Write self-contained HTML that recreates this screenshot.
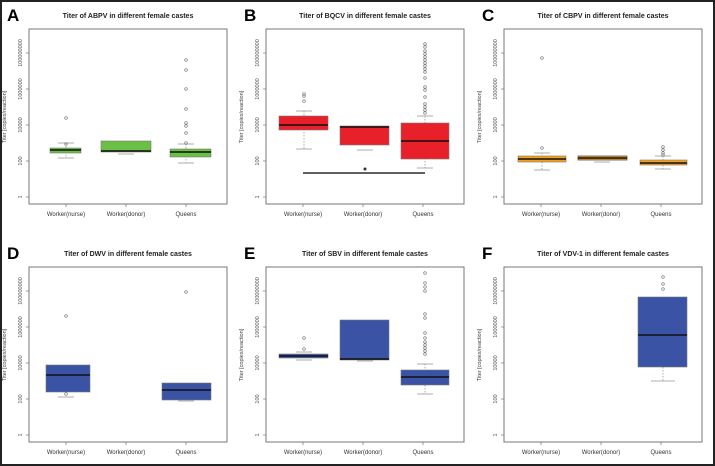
<!DOCTYPE html>
<html><head><style>
html,body{margin:0;padding:0;background:#fff}
svg{display:block}
text{font-family:"Liberation Sans",sans-serif}
.t{font-size:7px;font-weight:bold;fill:#222}
.L{font-size:17px;font-weight:bold;fill:#000}
.tk{font-size:5.5px;fill:#555}
.xl{font-size:6px;fill:#333}
.yl{font-size:5.5px;fill:#444}
.fr{fill:none;stroke:#777;stroke-width:1}
.w{stroke:#999;stroke-width:0.8;fill:none}
.o{fill:none;stroke:#777;stroke-width:0.7}
.m{stroke:#111;stroke-width:1.6}
</style></head><body>
<svg width="715" height="466" viewBox="0 0 715 466" xmlns="http://www.w3.org/2000/svg">
<rect x="1" y="1" width="713" height="464" fill="#fff" stroke="#222" stroke-width="2"/>
<defs>
<g id="axes">
<rect class="fr" x="29" y="29" width="198" height="175"/>
<g stroke="#777" stroke-width="0.7">
<line x1="26" y1="53" x2="29" y2="53"/><line x1="26" y1="89" x2="29" y2="89"/><line x1="26" y1="125" x2="29" y2="125"/><line x1="26" y1="161" x2="29" y2="161"/><line x1="26" y1="197" x2="29" y2="197"/>
<line x1="66" y1="204" x2="66" y2="207"/><line x1="126" y1="204" x2="126" y2="207"/><line x1="186" y1="204" x2="186" y2="207"/>
</g>
<text class="tk" transform="translate(22,53) rotate(-90)" text-anchor="middle">100000000</text>
<text class="tk" transform="translate(22,89) rotate(-90)" text-anchor="middle">1000000</text>
<text class="tk" transform="translate(22,125) rotate(-90)" text-anchor="middle">10000</text>
<text class="tk" transform="translate(22,161) rotate(-90)" text-anchor="middle">100</text>
<text class="tk" transform="translate(22,197) rotate(-90)" text-anchor="middle">1</text>
<text class="yl" transform="translate(6,117) rotate(-90)" text-anchor="middle">Titer [copies/reaction]</text>
<text class="xl" x="66" y="216" text-anchor="middle">Worker(nurse)</text>
<text class="xl" x="126" y="216" text-anchor="middle">Worker(donor)</text>
<text class="xl" x="186" y="216" text-anchor="middle">Queens</text>
</g>
</defs>

<!-- A -->
<use href="#axes"/>
<text class="L" x="7" y="21">A</text>
<text class="t" x="128" y="18" text-anchor="middle">Titer of ABPV in different female castes</text>
<line class="w" x1="66" y1="143" x2="66" y2="158" stroke-dasharray="1.5,1.5"/>
<line class="w" x1="58" y1="143" x2="74" y2="143"/><line class="w" x1="58" y1="158" x2="74" y2="158"/>
<rect x="50" y="148" width="31" height="5" fill="#6abf45" stroke="#777" stroke-width="0.6"/><line class="m" x1="50" y1="150" x2="81" y2="150"/>
<circle class="o" cx="66" cy="118" r="1.3"/><circle class="o" cx="66" cy="144" r="1.3"/>
<line class="w" x1="118" y1="154" x2="134" y2="154"/>
<rect x="101" y="141" width="50" height="11" fill="#6abf45" stroke="#777" stroke-width="0.6"/><line class="m" x1="101" y1="151" x2="151" y2="151"/>
<line class="w" x1="186" y1="144" x2="186" y2="163" stroke-dasharray="1.5,1.5"/>
<line class="w" x1="178" y1="144" x2="194" y2="144"/><line class="w" x1="178" y1="163" x2="194" y2="163"/>
<rect x="170" y="149" width="41" height="8" fill="#6abf45" stroke="#777" stroke-width="0.6"/><line class="m" x1="170" y1="152" x2="211" y2="152"/>
<g class="o"><circle cx="186" cy="60" r="1.3"/><circle cx="186" cy="70" r="1.3"/><circle cx="186" cy="89" r="1.3"/><circle cx="186" cy="109" r="1.3"/><circle cx="186" cy="126" r="1.3"/><circle cx="186" cy="123" r="1.3"/><circle cx="186" cy="133" r="1.3"/><circle cx="186" cy="143" r="1.3"/></g>

<!-- B -->
<g transform="translate(237,0)"><use href="#axes"/></g>
<text class="L" x="244" y="21">B</text>
<text class="t" x="365" y="18" text-anchor="middle">Titer of BQCV in different female castes</text>
<line class="w" x1="304" y1="111" x2="304" y2="149" stroke-dasharray="1.5,1.5"/>
<line class="w" x1="296" y1="111" x2="312" y2="111"/><line class="w" x1="296" y1="149" x2="312" y2="149"/>
<rect x="279" y="116" width="49" height="14" fill="#e8202a" stroke="#777" stroke-width="0.6"/><line class="m" x1="279" y1="125" x2="328" y2="125"/>
<g class="o"><circle cx="304" cy="94" r="1.3"/><circle cx="304" cy="96" r="1.3"/><circle cx="304" cy="101" r="1.3"/></g>
<line class="w" x1="357" y1="150" x2="373" y2="150"/>
<rect x="340" y="126" width="49" height="19" fill="#e8202a" stroke="#777" stroke-width="0.6"/><line class="m" x1="340" y1="127" x2="389" y2="127"/>
<circle cx="365" cy="169" r="1.5" fill="#333"/>
<line class="w" x1="425" y1="116" x2="425" y2="168" stroke-dasharray="1.5,1.5"/>
<line class="w" x1="417" y1="116" x2="433" y2="116"/><line class="w" x1="417" y1="168" x2="433" y2="168"/>
<rect x="401" y="123" width="48" height="36" fill="#e8202a" stroke="#777" stroke-width="0.6"/><line class="m" x1="401" y1="141" x2="449" y2="141"/>
<g class="o"><circle cx="425" cy="44" r="1.3"/><circle cx="425" cy="47" r="1.3"/><circle cx="425" cy="51" r="1.3"/><circle cx="425" cy="54" r="1.3"/><circle cx="425" cy="57" r="1.3"/><circle cx="425" cy="60" r="1.3"/><circle cx="425" cy="63" r="1.3"/><circle cx="425" cy="66" r="1.3"/><circle cx="425" cy="69" r="1.3"/><circle cx="425" cy="72" r="1.3"/><circle cx="425" cy="78" r="1.3"/><circle cx="425" cy="87" r="1.3"/><circle cx="425" cy="90" r="1.3"/><circle cx="425" cy="97" r="1.3"/><circle cx="425" cy="104" r="1.3"/><circle cx="425" cy="107" r="1.3"/><circle cx="425" cy="110" r="1.3"/><circle cx="425" cy="113" r="1.3"/></g>
<line x1="303" y1="173" x2="425" y2="173" stroke="#000" stroke-width="1.3"/>

<!-- C -->
<g transform="translate(475,0)"><use href="#axes"/></g>
<text class="L" x="482" y="21">C</text>
<text class="t" x="603" y="18" text-anchor="middle">Titer of CBPV in different female castes</text>
<line class="w" x1="542" y1="153" x2="542" y2="170" stroke-dasharray="1.5,1.5"/>
<line class="w" x1="534" y1="153" x2="550" y2="153"/><line class="w" x1="534" y1="170" x2="550" y2="170"/>
<rect x="518" y="156" width="48" height="6" fill="#f5a01a" stroke="#777" stroke-width="0.6"/><line class="m" x1="518" y1="159" x2="566" y2="159"/>
<circle class="o" cx="542" cy="58" r="1.3"/><circle class="o" cx="542" cy="148" r="1.3"/>
<line class="w" x1="594" y1="162" x2="610" y2="162"/>
<rect x="578" y="156" width="49" height="4" fill="#f5a01a" stroke="#555" stroke-width="0.8"/><line class="m" x1="578" y1="158" x2="627" y2="158"/>
<line class="w" x1="663" y1="156" x2="663" y2="169" stroke-dasharray="1.5,1.5"/>
<line class="w" x1="655" y1="156" x2="671" y2="156"/><line class="w" x1="655" y1="169" x2="671" y2="169"/>
<rect x="640" y="160" width="47" height="5" fill="#f5a01a" stroke="#777" stroke-width="0.6"/><line class="m" x1="640" y1="163" x2="687" y2="163"/>
<g class="o"><circle cx="663" cy="147" r="1.3"/><circle cx="663" cy="150" r="1.3"/><circle cx="663" cy="153" r="1.3"/><circle cx="663" cy="155" r="1.3"/></g>

<!-- D -->
<g transform="translate(0,238)"><use href="#axes"/></g>
<text class="L" x="7" y="259">D</text>
<text class="t" x="128" y="256" text-anchor="middle">Titer of DWV in different female castes</text>
<line class="w" x1="58" y1="397" x2="74" y2="397"/>
<rect x="46" y="365" width="44" height="27" fill="#3a53a4" stroke="#777" stroke-width="0.6"/><line class="m" x1="46" y1="375" x2="90" y2="375"/>
<circle class="o" cx="66" cy="316" r="1.3"/><circle class="o" cx="66" cy="394" r="1.3"/>
<line class="w" x1="178" y1="401" x2="194" y2="401"/>
<rect x="162" y="383" width="49" height="17" fill="#3a53a4" stroke="#777" stroke-width="0.6"/><line class="m" x1="162" y1="390" x2="211" y2="390"/>
<circle class="o" cx="186" cy="292" r="1.3"/>

<!-- E -->
<g transform="translate(237,238)"><use href="#axes"/></g>
<text class="L" x="244" y="259">E</text>
<text class="t" x="365" y="256" text-anchor="middle">Titer of SBV in different female castes</text>
<line class="w" x1="296" y1="352" x2="312" y2="352"/><line class="w" x1="296" y1="360" x2="312" y2="360"/>
<rect x="279" y="354" width="49" height="4" fill="#3a53a4" stroke="#777" stroke-width="0.6"/><line class="m" x1="279" y1="356" x2="328" y2="356"/>
<circle class="o" cx="304" cy="338" r="1.3"/><circle class="o" cx="304" cy="349" r="1.3"/>
<line class="w" x1="357" y1="361" x2="373" y2="361"/>
<rect x="340" y="320" width="49" height="40" fill="#3a53a4" stroke="#777" stroke-width="0.6"/><line class="m" x1="340" y1="359" x2="389" y2="359"/>
<line class="w" x1="425" y1="364" x2="425" y2="394" stroke-dasharray="1.5,1.5"/>
<line class="w" x1="417" y1="364" x2="433" y2="364"/><line class="w" x1="417" y1="394" x2="433" y2="394"/>
<rect x="401" y="370" width="48" height="15" fill="#3a53a4" stroke="#777" stroke-width="0.6"/><line class="m" x1="401" y1="377" x2="449" y2="377"/>
<g class="o"><circle cx="425" cy="273" r="1.3"/><circle cx="425" cy="283" r="1.3"/><circle cx="425" cy="287" r="1.3"/><circle cx="425" cy="291" r="1.3"/><circle cx="425" cy="314" r="1.3"/><circle cx="425" cy="318" r="1.3"/><circle cx="425" cy="333" r="1.3"/><circle cx="425" cy="338" r="1.3"/><circle cx="425" cy="342" r="1.3"/><circle cx="425" cy="345" r="1.3"/><circle cx="425" cy="348" r="1.3"/><circle cx="425" cy="351" r="1.3"/><circle cx="425" cy="354" r="1.3"/></g>

<!-- F -->
<g transform="translate(475,238)"><use href="#axes"/></g>
<text class="L" x="482" y="259">F</text>
<text class="t" x="603" y="256" text-anchor="middle">Titer of VDV-1 in different female castes</text>
<line class="w" x1="663" y1="367" x2="663" y2="381" stroke-dasharray="1.5,1.5"/>
<line class="w" x1="651" y1="381" x2="675" y2="381"/>
<rect x="638" y="297" width="49" height="70" fill="#3a53a4" stroke="#777" stroke-width="0.6"/><line class="m" x1="638" y1="335" x2="687" y2="335"/>
<g class="o"><circle cx="663" cy="277" r="1.3"/><circle cx="663" cy="284" r="1.3"/><circle cx="663" cy="289" r="1.3"/></g>
</svg>
</body></html>
